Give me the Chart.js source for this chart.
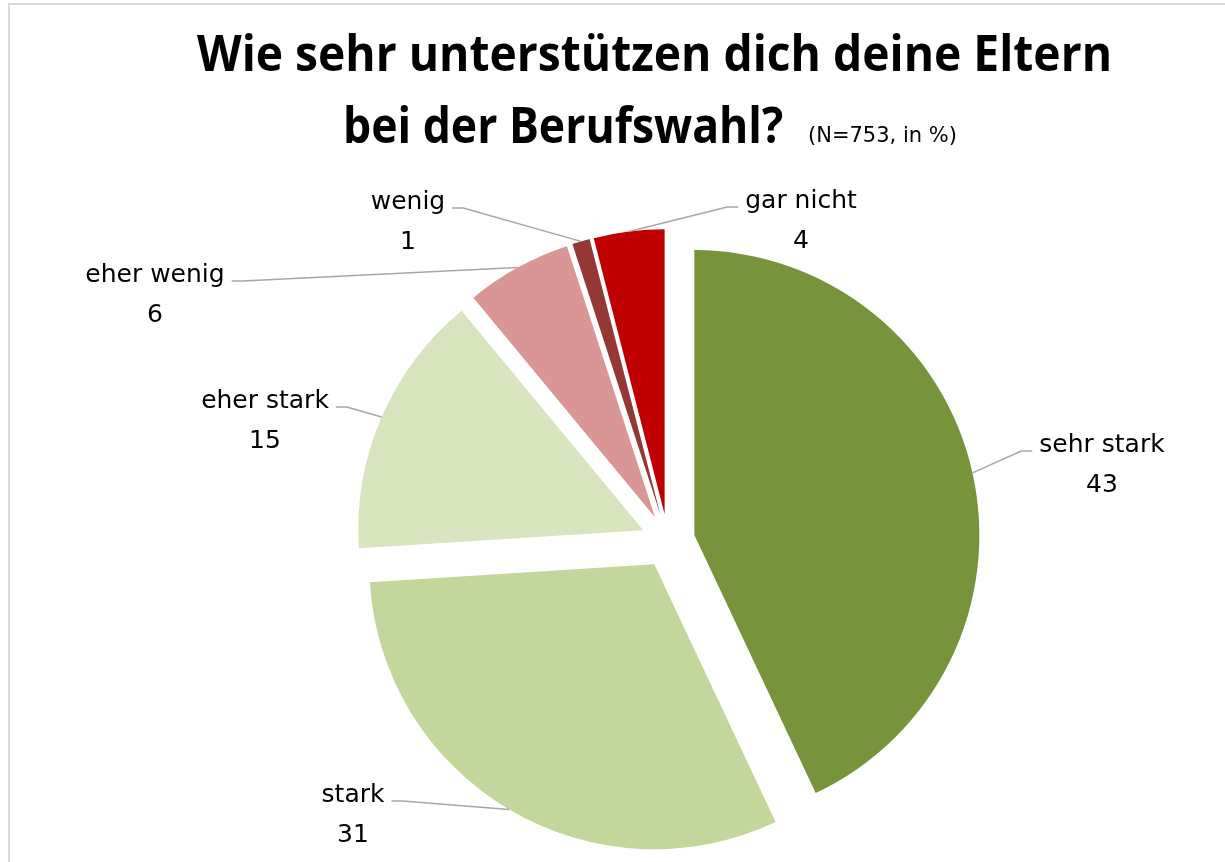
<!DOCTYPE html>
<html lang="de">
<head>
<meta charset="UTF-8">
<title>Wie sehr unterstützen dich deine Eltern bei der Berufswahl?</title>
<style>
  html, body { margin: 0; padding: 0; background: #ffffff; }
  body {
    width: 1225px;
    height: 862px;
    overflow: hidden;
    position: relative;
    font-family: 'DejaVu Sans', sans-serif;
  }
  .frame {
    position: absolute;
    left: 8px;
    top: 3px;
    width: 1400px;
    height: 1000px;
    border: 2px solid #d9d9d9;
  }
  canvas { position: absolute; left: 0; top: 0; }
  .title {
    position: absolute;
    white-space: nowrap;
    font-family: 'Open Sans', sans-serif;
    font-weight: bold;
    font-size: 50px;
    line-height: 50px;
    color: #000000;
    transform-origin: 0 0;
  }
  .sub {
    position: absolute;
    white-space: nowrap;
    font-size: 21px;
    line-height: 21px;
    color: #000000;
  }
</style>
</head>
<body>
  <div class="frame"></div>
  <canvas id="supportChart" width="1225" height="862"></canvas>
  <div class="title" style="left:197px; top:27px;" data-fit="915">Wie sehr unterstützen dich deine Eltern</div>
  <div class="title" style="left:343px; top:99px;" data-fit="440">bei der Berufswahl?</div>
  <div class="sub" style="left:808px; top:125px;">(N=753, in %)</div>

<script src="https://cdn.jsdelivr.net/npm/chart.js@4.4.3/dist/chart.umd.min.js"></script>
<script>
// Daten (Anteile in %)
const categories = ['sehr stark', 'stark', 'eher stark', 'eher wenig', 'wenig', 'gar nicht'];
const shares = [43, 31, 15, 6, 1, 4];

// Darstellung
const sliceColors = ['#77933C', '#C3D69B', '#D7E4BD', '#D99694', '#953735', '#C00000'];
// Textmitte / Grundlinie der ersten Zeile je Beschriftung
const labelSpots = [[1102, 452], [353, 802], [265, 408], [155, 282], [408, 209], [801, 208]];
const EXPLODE = 27;

// Titelzeilen auf die Breite des Originals bringen
document.querySelectorAll('[data-fit]').forEach(el => {
    const target = Number(el.dataset.fit);
    el.style.transform = 'scaleX(' + (target / el.offsetWidth) + ')';
});

// Segmente entlang ihrer Winkelhalbierenden herausziehen
const explodePlugin = {
    id: 'explode',
    afterDatasetsUpdate(chart) {
        chart.getDatasetMeta(0).data.forEach(arc => {
            const mid = (arc.startAngle + arc.endAngle) / 2;
            arc.x += EXPLODE * Math.cos(mid);
            arc.y += EXPLODE * Math.sin(mid);
        });
    }
};

// Beschriftungen mit Führungslinien
const labelPlugin = {
    id: 'sliceLabels',
    afterDatasetsDraw(chart) {
        const ctx = chart.ctx;
        const arcs = chart.getDatasetMeta(0).data;
        ctx.save();
        ctx.font = '25px "DejaVu Sans"';
        arcs.forEach((arc, i) => {
            const [tx, ty] = labelSpots[i];
            const mid = (arc.startAngle + arc.endAngle) / 2;
            const px = arc.x + Math.cos(mid) * arc.outerRadius;
            const py = arc.y + Math.sin(mid) * arc.outerRadius;
            const w = ctx.measureText(categories[i]).width;
            const onRight = tx > px;
            const edge = onRight ? tx - w / 2 - 7 : tx + w / 2 + 7;
            const elbow = onRight ? edge - 11 : edge + 11;

            ctx.strokeStyle = '#a6a6a6';
            ctx.lineWidth = 1.5;
            ctx.beginPath();
            ctx.moveTo(edge, ty - 1);
            ctx.lineTo(elbow, ty - 1);
            ctx.lineTo(px, py);
            ctx.stroke();

            ctx.fillStyle = '#000000';
            ctx.textAlign = 'center';
            ctx.textBaseline = 'alphabetic';
            ctx.fillText(categories[i], tx, ty);
            ctx.fillText(String(shares[i]), tx, ty + 40);
        });
        ctx.restore();
    }
};

new Chart(document.getElementById('supportChart'), {
    type: 'pie',
    data: {
        labels: categories,
        datasets: [{
            data: shares,
            backgroundColor: sliceColors,
            borderWidth: 0
        }]
    },
    options: {
        responsive: false,
        animation: false,
        events: [],
        layout: {
            padding: { top: 256, bottom: 36, left: 300, right: 189 }
        },
        plugins: {
            legend: { display: false },
            tooltip: { enabled: false },
            title: { display: false }
        }
    },
    plugins: [explodePlugin, labelPlugin]
});
</script>
</body>
</html>
